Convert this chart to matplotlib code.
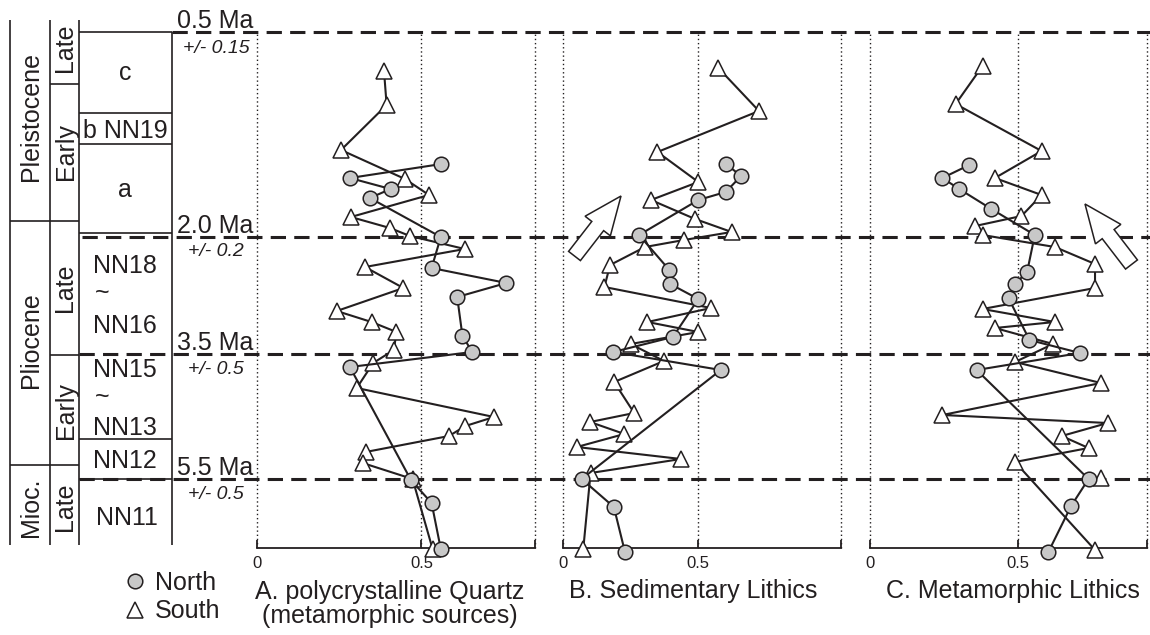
import matplotlib
matplotlib.use('Agg')
import matplotlib.pyplot as plt
import numpy as np
from matplotlib.patches import Polygon

plt.rcParams['font.family'] = ['Liberation Sans', 'DejaVu Sans']

# ---------------- data (value, stratigraphic level; level 32 = 0.5 Ma line, 548 = base) ----------
a_south_x = [0.386, 0.394, 0.255, 0.450, 0.523, 0.285, 0.404, 0.465, 0.632, 0.328, 0.445, 0.242,
             0.348, 0.424, 0.416, 0.353, 0.303, 0.721, 0.634, 0.584, 0.330, 0.321, 0.473, 0.534]
a_south_lv = [71, 105, 150, 179, 195, 217, 228, 236, 249, 267, 288, 311,
              322, 332, 350, 363, 388, 417, 426, 436, 452, 463, 479, 549]
a_north_x = [0.561, 0.282, 0.406, 0.343, 0.559, 0.531, 0.759, 0.609, 0.625, 0.655, 0.282, 0.468, 0.531, 0.559]
a_north_lv = [164, 178, 189, 198, 237, 268, 283, 297, 336, 352, 367, 480, 503, 549]

b_south_x = [0.575, 0.725, 0.350, 0.501, 0.326, 0.489, 0.624, 0.448, 0.304, 0.175, 0.154, 0.548,
             0.313, 0.501, 0.251, 0.374, 0.190, 0.264, 0.101, 0.228, 0.052, 0.437, 0.103, 0.076]
b_south_lv = [68, 111, 152, 182, 200, 219, 232, 240, 247, 265, 287, 308,
              322, 332, 344, 361, 382, 413, 422, 434, 447, 459, 473, 549]
b_north_x = [0.603, 0.659, 0.602, 0.501, 0.282, 0.394, 0.397, 0.501, 0.407, 0.187, 0.584, 0.070, 0.189, 0.230]
b_north_lv = [164, 176, 192, 200, 235, 270, 284, 299, 337, 352, 370, 479, 507, 552]

c_south_x = [0.381, 0.290, 0.581, 0.423, 0.581, 0.513, 0.356, 0.381, 0.626, 0.762, 0.762, 0.381,
             0.626, 0.423, 0.620, 0.491, 0.782, 0.245, 0.805, 0.649, 0.740, 0.491, 0.762]
c_south_lv = [66, 104, 151, 178, 195, 216, 226, 235, 247, 264, 288, 309,
              322, 328, 344, 362, 383, 415, 423, 436, 448, 462, 550]
c_south_extra_x = [0.782]
c_south_extra_lv = [478]
c_north_x = [0.336, 0.245, 0.302, 0.411, 0.558, 0.532, 0.491, 0.469, 0.540, 0.711, 0.361, 0.740, 0.681, 0.604]
c_north_lv = [165, 178, 189, 209, 235, 272, 284, 298, 340, 353, 370, 479, 506, 552]

panel_titles = ["A. polycrystalline Quartz\n(metamorphic sources)", "B. Sedimentary Lithics",
                "C. Metamorphic Lithics"]
panel_xmax = [0.846, 1.028, 0.938]
tick_vals = [0, 0.5]
tick_labels = ['0', '0.5']

boundary_labels = ["0.5 Ma", "2.0 Ma", "3.5 Ma", "5.5 Ma"]
boundary_errors = ["+/- 0.15", "+/- 0.2", "+/- 0.5", "+/- 0.5"]
boundary_levels = [32, 237, 354, 479]

# ---------------- figure ----------------
W, H = 1150, 635
TXT = '#231f20'
fig = plt.figure(figsize=(W / 100, H / 100), dpi=100)
bg = fig.add_axes([0, 0, 1, 1], zorder=0)
bg.set_xlim(0, W)
bg.set_ylim(H, 0)
bg.axis('off')

LV_TOP, LV_BOT = 32, 548


def pfig(x0, x1):
    return [x0 / W, 1 - LV_BOT / H, (x1 - x0) / W, (LV_BOT - LV_TOP) / H]


panel_px = [(257.3, 535.0), (562.7, 841.0), (870.0, 1147.0)]
series = [
    (a_south_x, a_south_lv, a_north_x, a_north_lv, None),
    (b_south_x, b_south_lv, b_north_x, b_north_lv, None),
    (c_south_x, c_south_lv, c_north_x, c_north_lv, (c_south_extra_x, c_south_extra_lv)),
]

for (x0, x1), xmax, (sx, sl, nx, nl, extra) in zip(panel_px, panel_xmax, series):
    ax = fig.add_axes(pfig(x0, x1), zorder=2)
    ax.patch.set_alpha(0)
    ax.set_xlim(0, xmax)
    ax.set_ylim(LV_BOT, LV_TOP)
    for s in ['top', 'left', 'right']:
        ax.spines[s].set_visible(False)
    ax.spines['bottom'].set_linewidth(1.3)
    ax.spines['bottom'].set_color(TXT)
    ax.set_yticks([])
    ax.set_xticks(tick_vals + [xmax])
    ax.set_xticklabels(tick_labels + [''])
    ax.tick_params(axis='x', direction='in', length=6, width=1.3, colors=TXT,
                   labelsize=12, pad=6)
    for v in tick_vals + [xmax]:
        ax.axvline(v, ls=(0, (1, 2)), lw=1.0, color=TXT, zorder=1, clip_on=False)
    ax.plot(sx, sl, '-', color=TXT, lw=1.5, zorder=3, clip_on=False)
    ax.plot(sx, sl, '^', ms=11, mfc='white', mec=TXT, mew=1.1, zorder=4, clip_on=False)
    if extra is not None:
        ax.plot(extra[0], extra[1], '^', ms=11, mfc='white', mec=TXT, mew=1.1, zorder=4,
                clip_on=False)
    ax.plot(nx, nl, '-', color=TXT, lw=1.5, zorder=5, clip_on=False)
    ax.plot(nx, nl, 'o', ms=10.5, mfc='#c8c8c8', mec=TXT, mew=1.1, zorder=6, clip_on=False)

# ---------------- stratigraphic column ----------------
lk = dict(color=TXT, lw=1.2, solid_capstyle='butt')
for x, y0 in [(10, 20), (50, 20), (79, 20), (172, 32)]:
    bg.plot([x, x], [y0, 545], **lk)
for y, xa, xb in [(221, 10, 79), (465, 10, 79), (84, 50, 79), (355, 50, 79),
                  (32, 79, 172), (113, 79, 172), (144, 79, 172), (233, 79, 172),
                  (439, 79, 172), (479, 79, 172)]:
    bg.plot([xa, xb], [y, y], **lk)

# boundary dashed lines
for lv, xs in zip(boundary_levels, [172, 82, 79, 79]):
    bg.plot([xs, W], [lv, lv], ls=(0, (5, 2.7)), lw=2.2, color=TXT, zorder=1)

fs = 18
for txt, y in [("Pleistocene", 116.5), ("Pliocene", 340), ("Mioc.", 507)]:
    bg.text(38, y, txt, rotation=90, rotation_mode='anchor', ha='center', va='baseline',
            fontsize=fs, color=TXT)
for txt, y in [("Late", 48), ("Early", 152), ("Late", 288), ("Early", 410.5), ("Late", 507)]:
    bg.text(72.5, y, txt, rotation=90, rotation_mode='anchor', ha='center', va='baseline',
            fontsize=fs, color=TXT)
for txt, x, y in [("c", 125, 80), ("b NN19", 125, 138), ("a", 125, 197),
                  ("NN18", 125, 273), ("NN16", 125, 333), ("NN15", 125, 377),
                  ("NN13", 125, 435), ("NN12", 125, 468), ("NN11", 127, 525)]:
    bg.text(x, y, txt, ha='center', va='baseline', fontsize=fs, color=TXT)
for y in [293, 397]:
    bg.text(102, y, "~", ha='center', va='center', fontsize=fs, color=TXT)

for lab, err, yb, ye in zip(boundary_labels, boundary_errors, [28, 233, 350, 475], [53, 256, 374, 499]):
    bg.text(215, yb, lab, ha='center', va='baseline', fontsize=fs, color=TXT)
    bg.text(216, ye, err, ha='center', va='baseline', fontsize=14, style='italic', color=TXT)

# ---------------- arrows ----------------
def arrow_poly(tail, tip, shaft_w, head_w, head_len):
    tail = np.asarray(tail, float)
    tip = np.asarray(tip, float)
    d = tip - tail
    u = d / np.hypot(*d)
    n = np.array([-u[1], u[0]])
    base = tip - u * head_len
    return [tail + n * shaft_w / 2, base + n * shaft_w / 2, base + n * head_w / 2, tip,
            base - n * head_w / 2, base - n * shaft_w / 2, tail - n * shaft_w / 2]


for tail, tip in [((574.5, 256.0), (621.0, 196.0)), ((1131.5, 264.5), (1085.0, 204.0))]:
    bg.add_patch(Polygon(arrow_poly(tail, tip, 15, 32, 38), closed=True, fc='white',
                         ec=TXT, lw=1.1, zorder=3))

# ---------------- legend ----------------
bg.plot([135], [581], 'o', ms=10.5, mfc='#c8c8c8', mec=TXT, mew=1.1, clip_on=False)
bg.plot([135], [610], '^', ms=11, mfc='white', mec=TXT, mew=1.1, clip_on=False)
bg.text(155, 590, "North", ha='left', va='baseline', fontsize=fs, color=TXT)
bg.text(155, 618, "South", ha='left', va='baseline', fontsize=fs, color=TXT)

# ---------------- panel titles ----------------
bg.text(390, 599, panel_titles[0].split('\n')[0], ha='center', va='baseline', fontsize=fs, color=TXT)
bg.text(390, 623, panel_titles[0].split('\n')[1], ha='center', va='baseline', fontsize=fs, color=TXT)
bg.text(693, 598, panel_titles[1], ha='center', va='baseline', fontsize=fs, color=TXT)
bg.text(1013, 598, panel_titles[2], ha='center', va='baseline', fontsize=fs, color=TXT)

fig.savefig('out.png', dpi=100)
